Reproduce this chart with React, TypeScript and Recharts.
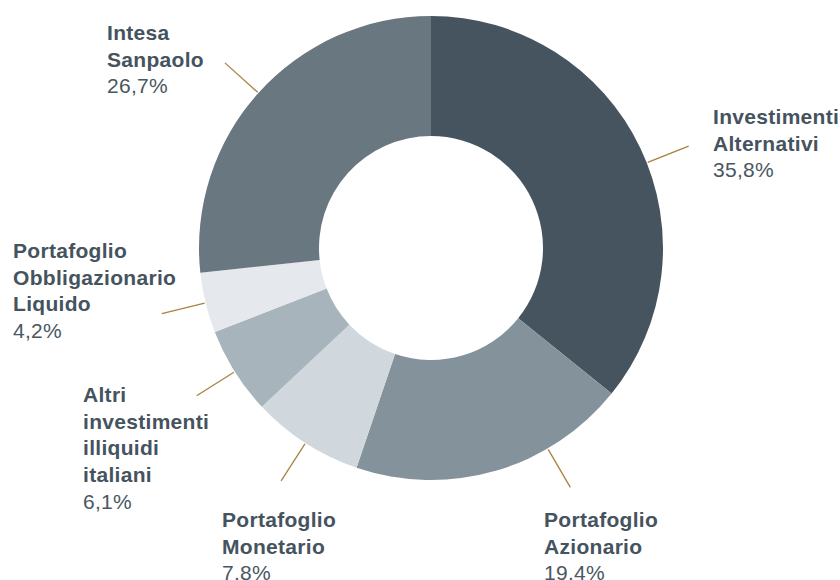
import React from "react";
import { PieChart, Pie, Cell } from "recharts";

const categories = [
  "Investimenti Alternativi",
  "Portafoglio Azionario",
  "Portafoglio Monetario",
  "Altri investimenti illiquidi italiani",
  "Portafoglio Obbligazionario Liquido",
  "Intesa Sanpaolo",
];
const values = [35.8, 19.4, 7.8, 6.1, 4.2, 26.7];
const valueLabels = ["35,8%", "19.4%", "7.8%", "6,1%", "4,2%", "26,7%"];
const labelLines = [
  ["Investimenti", "Alternativi"],
  ["Portafoglio", "Azionario"],
  ["Portafoglio", "Monetario"],
  ["Altri", "investimenti", "illiquidi", "italiani"],
  ["Portafoglio", "Obbligazionario", "Liquido"],
  ["Intesa", "Sanpaolo"],
];

const colors = ["#45545f", "#84939b", "#d0d7dd", "#a8b4bb", "#e5e8ec", "#687780"];

// label placement (styling / layout only)
const labelLayout = [
  { x: 713, y: 124, angleOffset: -4 },
  { x: 544, y: 527, angleOffset: 14 },
  { x: 222, y: 527, angleOffset: 0 },
  { x: 83, y: 402, angleOffset: 0 },
  { x: 13, y: 258, angleOffset: 0 },
  { x: 107, y: 40, angleOffset: 0 },
];

const data = categories.map((name, i) => ({
  name,
  value: values[i],
  valueLabel: valueLabels[i],
  lines: labelLines[i],
}));

const RAD = Math.PI / 180;
const LINE_H = 26.7;
const FONT = "'Liberation Sans', Arial, Helvetica, sans-serif";

const renderLabel = (props: any) => {
  const { cx, cy, midAngle, outerRadius, index } = props;
  const lay = labelLayout[index];
  const ang = midAngle + lay.angleOffset;
  const r1 = outerRadius + 1;
  const r2 = outerRadius + 45;
  const x1 = cx + Math.cos(-ang * RAD) * r1;
  const y1 = cy + Math.sin(-ang * RAD) * r1;
  const x2 = cx + Math.cos(-ang * RAD) * r2;
  const y2 = cy + Math.sin(-ang * RAD) * r2;
  const d = data[index];
  return (
    <g key={`lbl-${index}`}>
      <line x1={x1} y1={y1} x2={x2} y2={y2} stroke="#a9823f" strokeWidth={1.3} />
      <text
        x={lay.x}
        y={lay.y}
        fontFamily={FONT}
        fontSize={21}
        letterSpacing={0.3}
        fill="#45535e"
        textAnchor="start"
      >
        {d.lines.map((ln: string, k: number) => (
          <tspan key={k} x={lay.x} y={lay.y + k * LINE_H} fontWeight="bold">
            {ln}
          </tspan>
        ))}
        <tspan x={lay.x} y={lay.y + d.lines.length * LINE_H} fontWeight="normal" fill="#4a5761">
          {d.valueLabel}
        </tspan>
      </text>
    </g>
  );
};

export default function App() {
  return (
    <div style={{ position: "absolute", left: 0, top: 0, width: 840, height: 580, background: "#fff" }}>
      <PieChart width={840} height={580} margin={{ top: 0, right: 0, bottom: 0, left: 0 }}>
        <Pie
          data={data}
          dataKey="value"
          nameKey="name"
          cx={431}
          cy={248}
          innerRadius={112}
          outerRadius={232}
          startAngle={90}
          endAngle={-270}
          stroke="none"
          isAnimationActive={false}
          label={renderLabel}
          labelLine={false}
        >
          {data.map((_, i) => (
            <Cell key={i} fill={colors[i]} stroke="none" />
          ))}
        </Pie>
      </PieChart>
    </div>
  );
}
